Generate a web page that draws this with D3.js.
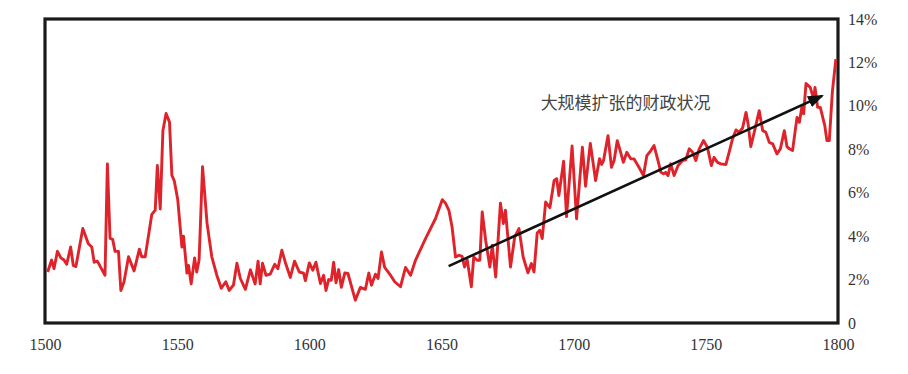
<!DOCTYPE html>
<html lang="zh">
<head>
<meta charset="UTF-8" />
<title>财政状况 1500-1800</title>
<script src="https://cdn.jsdelivr.net/npm/d3@7"></script>
<style>
	body { margin: 0; background: #fff; }
</style>
</head>
<body>
<svg id="vis" width="908" height="374"></svg>
<script>
// years and values (%)
var years = [
	1501, 1502.5, 1503.4, 1504.7, 1506, 1507.2, 1508.2, 1509.7, 1510.7, 1511.7,
	1514.3, 1516.4, 1517.7, 1518.6, 1519.8, 1522.7, 1523.6, 1524.6, 1525.6, 1526.5,
	1527.8, 1528.7, 1529.9, 1531.6, 1533.7, 1535.7, 1536.6, 1537.9, 1540.4, 1541.7,
	1542.5, 1543.6, 1544.6, 1545.8, 1547.1, 1548, 1548.9, 1550.2, 1551.8, 1552.4,
	1553.7, 1554.3, 1555.3, 1556.6, 1557.4, 1558.3, 1559.6, 1561.3, 1563.1, 1565,
	1566.7, 1568.4, 1569.7, 1571.3, 1572.6, 1573.9, 1575.8, 1577.7, 1579.5, 1580.6,
	1581.4, 1582.3, 1583.6, 1585.2, 1586.9, 1588.1, 1589.6, 1590.9, 1592.8, 1594.4,
	1596.2, 1597.8, 1598.5, 1600, 1601.3, 1602.5, 1604.2, 1605.4, 1606.3, 1607.3,
	1608.3, 1609.2, 1610.1, 1611.1, 1612.1, 1613.4, 1614.6, 1617.4, 1619.3, 1621.2,
	1622.5, 1623.5, 1625, 1626, 1627.3, 1628.5, 1630.7, 1632.3, 1634.5, 1636.4,
	1638.3, 1640.2, 1644, 1647.7, 1650.3, 1651.5, 1652.8, 1654, 1655.3, 1656.6,
	1657.8, 1658.7, 1659.7, 1661.3, 1662.2, 1663.5, 1664.5, 1665.4, 1666.7, 1668.3,
	1669.2, 1670.5, 1672.3, 1673.4, 1674.2, 1676.1, 1677.7, 1679.3, 1680.9, 1682.7,
	1684, 1685, 1686.2, 1687.2, 1688.1, 1689.4, 1691, 1692.6, 1693.6, 1694.4,
	1696.2, 1697.3, 1699.4, 1701.1, 1703.3, 1704.5, 1706.3, 1708.3, 1709.8, 1710.6,
	1711.3, 1713, 1714.3, 1715.3, 1716.5, 1717.6, 1718.8, 1720.1, 1721.6,
	1722.8, 1724.7, 1726.4, 1727.7, 1729.2, 1730.4, 1731.9, 1733, 1734, 1734.8,
	1735.7, 1736.7, 1738, 1739.5, 1741.2, 1742.4, 1743.7, 1745, 1746.2, 1747.5,
	1749.1, 1750.6, 1752.1, 1753.1, 1754.4, 1755.7, 1757.6, 1758.8, 1760.1, 1761.4,
	1762.6, 1763.9, 1765.2, 1766, 1767, 1768.3, 1770.2, 1771.5, 1772.7, 1774,
	1775.3, 1776.9, 1778.2, 1779.7, 1780.7, 1781.6, 1782.8, 1784.5, 1785.4, 1786.3,
	1787, 1787.9, 1789.5, 1790.8, 1791.3, 1792.3, 1793.3, 1795, 1795.8, 1796.7,
	1797.9, 1799.2
];
var values = [
	2.35, 2.9, 2.5, 3.3, 3.0, 2.9, 2.7, 3.5, 2.65, 2.6,
	4.35, 3.65, 3.5, 2.8, 2.85, 2.2, 7.33, 3.9, 3.85, 3.3,
	3.3, 1.5, 1.9, 3.05, 2.4, 3.4, 3.05, 3.05, 5.0, 5.2,
	7.25, 5.25, 8.85, 9.65, 9.25, 6.8, 6.55, 5.7, 3.5, 4.0,
	2.3, 2.65, 1.8, 3.0, 2.35, 2.9, 7.2, 4.6, 3.05, 2.2,
	1.6, 1.9, 1.5, 1.75, 2.75, 2.05, 1.55, 2.45, 1.8, 2.85,
	1.8, 2.75, 2.2, 2.25, 2.7, 2.5, 3.35, 2.8, 2.1, 2.85,
	2.35, 2.3, 1.95, 2.77, 2.43, 2.8, 1.82, 2.2, 1.5, 2.0,
	1.97, 2.8, 1.85, 2.46, 1.64, 2.3, 2.28, 1.05, 1.64, 1.55,
	2.3, 1.74, 2.25, 2.05, 3.27, 2.56, 2.2, 1.9, 1.67, 2.56,
	2.2, 2.9, 3.9, 4.8, 5.68, 5.52, 5.19, 4.42, 3.04, 3.12,
	3.07, 2.58, 2.92, 1.67, 3.04, 2.89, 2.89, 5.11, 3.81, 2.58,
	3.58, 2.12, 5.52, 4.58, 5.19, 2.58, 3.96, 4.35, 3.04, 2.31,
	2.74, 2.35, 4.14, 4.27, 3.89, 5.57, 5.31, 6.56, 6.64, 5.87,
	7.45, 4.9, 8.15, 4.8, 8.1, 6.3, 8.27, 6.56, 7.57, 7.3,
	7.48, 8.63, 7.17, 7.48, 8.4, 7.94, 7.4, 7.86, 7.56,
	7.56, 7.17, 6.79, 7.71, 7.94, 8.17, 7.48, 6.94, 6.87, 6.94,
	6.79, 7.33, 6.79, 7.25, 7.48, 7.51, 8.02, 7.86, 7.48, 8.02,
	8.4, 8.09, 7.25, 7.63, 7.4, 7.33, 7.3, 7.86, 8.48, 8.89,
	8.78, 8.98, 9.7, 9.17, 8.12, 8.78, 9.78, 8.86, 8.78, 8.32,
	8.25, 7.79, 8.02, 8.86, 8.12, 8.02, 7.94, 9.47, 9.24, 9.93,
	9.63, 11.03, 10.85, 10.31, 10.85, 9.93, 9.93, 9.09, 8.4, 8.4,
	10.69, 12.15
];
var xTicks = [1500, 1550, 1600, 1650, 1700, 1750, 1800];
var yTicks = [0, 2, 4, 6, 8, 10, 12, 14];

// trend arrow: [year, value] start and end
var arrowFrom = [1652.7, 2.62];
var arrowTo = [1794, 10.46];
var arrowLabel = "大规模扩张的财政状况";
var labelPos = [1687.5, 9.85];

var svg = d3.select("#vis");

var x = d3.scaleLinear().domain([1500, 1800]).range([45, 838]);
var y = d3.scaleLinear().domain([0, 14]).range([323, 19]);

// axes (labels only)
var gx = svg.append("g")
	.attr("transform", "translate(0," + y(0) + ")")
	.call(d3.axisBottom(x).tickValues(xTicks).tickSize(0).tickPadding(16).tickFormat(d3.format("d")));
gx.select(".domain").remove();
gx.selectAll("text")
	.attr("font-family", "'Liberation Serif', serif")
	.attr("font-size", 16)
	.attr("fill", "#333");

var gy = svg.append("g")
	.attr("transform", "translate(" + x(1800) + ",0)")
	.call(d3.axisRight(y).tickValues(yTicks).tickSize(0).tickPadding(10)
		.tickFormat(function (d) { return d === 0 ? "0" : d + "%"; }));
gy.select(".domain").remove();
gy.selectAll("text")
	.attr("font-family", "'Liberation Serif', serif")
	.attr("font-size", 16)
	.attr("fill", "#333");

// frame
svg.append("rect")
	.attr("x", x(1500))
	.attr("y", y(14))
	.attr("width", x(1800) - x(1500))
	.attr("height", y(0) - y(14))
	.attr("fill", "none")
	.attr("stroke", "#1a1a1a")
	.attr("stroke-width", 3.2);

// series line
var line = d3.line()
	.x(function (d, i) { return x(years[i]); })
	.y(function (d) { return y(d); });

svg.append("path")
	.attr("d", line(values))
	.attr("fill", "none")
	.attr("stroke", "#df232b")
	.attr("stroke-width", 2.9)
	.attr("stroke-linejoin", "round");

// arrow
svg.append("defs").append("marker")
	.attr("id", "head")
	.attr("markerUnits", "userSpaceOnUse")
	.attr("viewBox", "0 0 16 12")
	.attr("refX", 14)
	.attr("refY", 6)
	.attr("markerWidth", 16)
	.attr("markerHeight", 12)
	.attr("orient", "auto")
	.append("path")
	.attr("d", "M0,0L16,6L0,12Z")
	.attr("fill", "#111");

svg.append("line")
	.attr("x1", x(arrowFrom[0]))
	.attr("y1", y(arrowFrom[1]))
	.attr("x2", x(arrowTo[0]))
	.attr("y2", y(arrowTo[1]))
	.attr("stroke", "#111")
	.attr("stroke-width", 2.6)
	.attr("marker-end", "url(#head)");

svg.append("text")
	.attr("x", x(labelPos[0]))
	.attr("y", y(labelPos[1]))
	.attr("font-family", "'Noto Sans CJK SC', sans-serif")
	.attr("font-size", 17)
	.attr("fill", "#444")
	.text(arrowLabel);
</script>
</body>
</html>
